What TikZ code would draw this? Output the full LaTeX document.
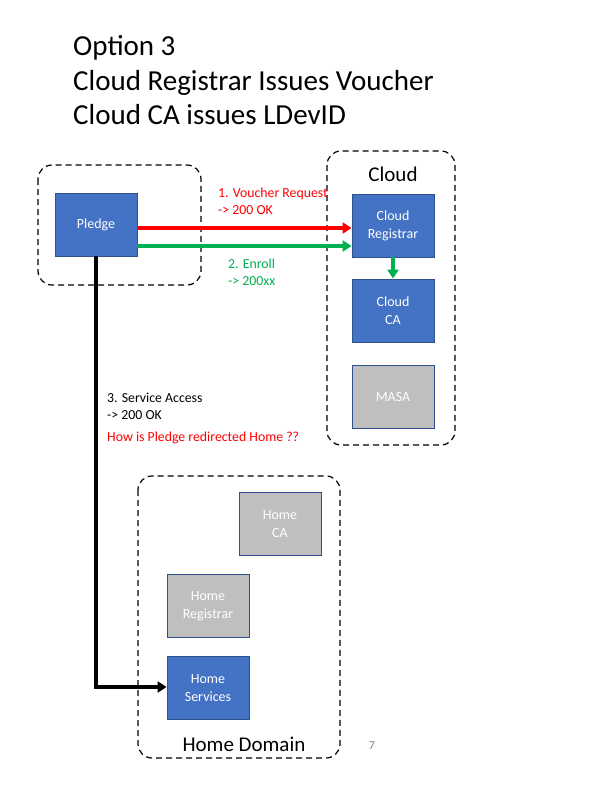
\documentclass[tikz,border=0pt]{standalone}
\usepackage{fontspec}
\setmainfont{Carlito}
\usetikzlibrary{arrows.meta}
\definecolor{boxblue}{HTML}{4472C4}
\definecolor{boxedge}{HTML}{2F528F}
\definecolor{boxgray}{HTML}{BFBFBF}
\definecolor{arrred}{HTML}{FF0000}
\definecolor{arrgreen}{HTML}{00B050}
\definecolor{pagegray}{HTML}{808080}
\begin{document}
\begin{tikzpicture}[x=1pt,y=-1pt,
  blu/.style={draw=boxedge,line width=0.8pt,fill=boxblue,text=white,minimum width=82pt,minimum height=63pt,inner sep=0pt,align=center,font=\fontsize{14}{18}\selectfont},
  gry/.style={blu,fill=boxgray},
  dombox/.style={draw=black,dash pattern=on 6pt off 4pt,rounded corners=14pt,line width=1.2pt},
  lbl/.style={anchor=west,align=left,inner sep=0pt,font=\fontsize{13.8}{17}\selectfont}
]
\useasboundingbox (0,0) rectangle (610,788);
% title
\node[anchor=west,inner sep=0pt,align=left,font=\fontsize{29}{34.5}\selectfont] (title) at (73,80.5) {Option 3\\Cloud Registrar Issues Voucher\\Cloud CA issues LDevID};
% domains
\draw[dombox] (38,165) rectangle (201,285);
\draw[dombox] (327,151) rectangle (455,445);
\draw[dombox] (138,476) rectangle (340,758);
\node[font=\fontsize{21}{24}\selectfont,inner sep=0pt] (cloudlbl) at (393,174) {Cloud};
\node[font=\fontsize{21}{24}\selectfont,inner sep=0pt] (homelbl) at (244,744) {Home Domain};
% boxes
\node[blu] (pledge) at (96,224.5) {Pledge};
\node[blu] (creg) at (393,225.5) {Cloud\\Registrar};
\node[blu] (cca) at (393,310.5) {Cloud\\CA};
\node[gry] (masa) at (393,396.5) {MASA};
\node[gry] (hca) at (280,524) {Home\\CA};
\node[gry] (hreg) at (208,606) {Home\\Registrar};
\node[blu] (hsvc) at (208,688) {Home\\Services};
% arrows
\draw[arrred,line width=3.4pt,-{Triangle[length=9pt,width=11pt]}] (pledge.east |- 0,228) -- (creg.west |- 0,228);
\draw[arrgreen,line width=3.4pt,-{Triangle[length=9pt,width=11pt]}] (pledge.east |- 0,246) -- (creg.west |- 0,246);
\draw[arrgreen,line width=3.4pt,-{Triangle[length=9pt,width=11pt]}] (creg.south) -- (cca.north);
\coordinate (corner) at (96,687);
\draw[black,line width=3.8pt,-{Triangle[length=9pt,width=11pt]}] (pledge.south) -- (corner) -- (hsvc.west |- corner);
% labels
\node[lbl,text=arrred] (l1) at (218,201.5) {1. Voucher Request\\-> 200 OK};
\node[lbl,text=arrgreen] (l2) at (228,272.5) {2. Enroll\\-> 200xx};
\node[lbl] (l3) at (107,406) {3. Service Access\\-> 200 OK};
\node[lbl,text=arrred] (l4) at (107,438) {How is Pledge redirected Home ??};
\node[text=pagegray,font=\fontsize{12}{14}\selectfont,inner sep=0pt] (pnum) at (372,746) {7};
\end{tikzpicture}
\end{document}
